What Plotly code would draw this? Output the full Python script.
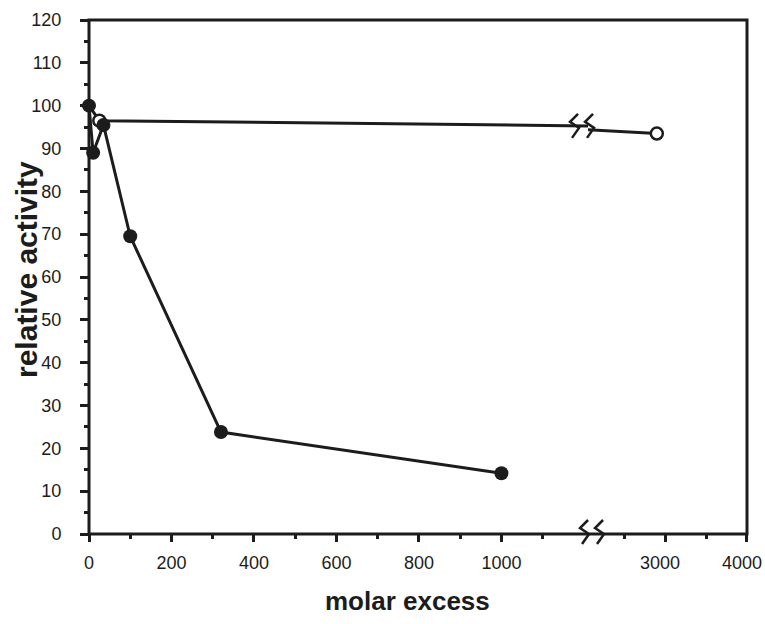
import numpy as np
import plotly.graph_objects as go

# ---------------- data ----------------
filled_x = [0, 10, 35, 100, 320, 1000]
filled_y = [100, 89, 95.5, 69.5, 23.8, 14.2]

open_x = [0, 25, 2900]
open_y = [100, 96.5, 93.5]

y_tickvals = list(range(0, 121, 10))
y_minorvals = list(range(5, 120, 10))
x_left_tickvals = [0, 200, 400, 600, 800, 1000]
x_left_ticktext = ["0", "200", "400", "600", "800", "1000"]
x_left_minorvals = [100, 300, 500, 700, 900, 1100]
x_right_tickvals = [3000, 4000]
x_right_ticktext = ["3000", "4000"]
x_right_minorvals = [2500, 3500]

x_title = "molar excess"
y_title = "relative activity"

# ---------------- styling / layout ----------------
INK = "#1c1c1c"
FONT = "Liberation Sans, Arial, Helvetica, sans-serif"
X_LEFT_RANGE = [0, 1210]
X_RIGHT_RANGE = [2061, 4000]
SPLIT = 0.7584
W, H = 765, 624
ML, MR, MT, MB = 89, 18, 20, 90


def in_range(xs, ys, r):
    xs = np.asarray(xs, float)
    ys = np.asarray(ys, float)
    m = (xs >= r[0]) & (xs <= r[1])
    return xs[m], ys[m]


fig = go.Figure()

common = dict(showlegend=False, hoverinfo="skip")

# lines
fig.add_trace(go.Scatter(x=filled_x, y=filled_y, xaxis="x", yaxis="y", mode="lines",
                         line=dict(color=INK, width=3), **common))
for xa in ["x", "x2"]:
    fig.add_trace(go.Scatter(x=open_x, y=open_y, xaxis=xa, yaxis="y", mode="lines",
                             line=dict(color=INK, width=3), **common))

# open markers
for xa, rng in [("x", X_LEFT_RANGE), ("x2", X_RIGHT_RANGE)]:
    ox, oy = in_range(open_x[1:], open_y[1:], rng)
    fig.add_trace(go.Scatter(x=ox, y=oy, xaxis=xa, yaxis="y", mode="markers",
                             marker=dict(size=12, color="white", line=dict(color=INK, width=2.5)),
                             cliponaxis=False, **common))

# filled markers
fx, fy = in_range(filled_x, filled_y, X_LEFT_RANGE)
fig.add_trace(go.Scatter(x=fx, y=fy, xaxis="x", yaxis="y", mode="markers",
                         marker=dict(size=14, color=INK), cliponaxis=False, **common))

tickfont = dict(family=FONT, size=18, color=INK)
axis_common = dict(showgrid=False, zeroline=False, showline=False, ticks="outside",
                   tickwidth=2.5, tickcolor=INK, tickfont=tickfont, fixedrange=True,
                   ticklabeloverflow="allow", automargin=False)

fig.update_layout(
    width=W, height=H,
    margin=dict(l=ML, r=MR, t=MT, b=MB, autoexpand=False),
    paper_bgcolor="white", plot_bgcolor="white",
    xaxis=dict(domain=[0, SPLIT], range=X_LEFT_RANGE, anchor="y",
               tickmode="array", tickvals=x_left_tickvals, ticktext=x_left_ticktext,
               ticklen=7, ticklabelstandoff=5,
               minor=dict(tickvals=x_left_minorvals, ticks="outside", ticklen=4,
                          tickwidth=2.5, tickcolor=INK),
               **axis_common),
    xaxis2=dict(domain=[SPLIT, 1], range=X_RIGHT_RANGE, anchor="y",
                tickmode="array", tickvals=x_right_tickvals, ticktext=x_right_ticktext,
                ticklen=7, ticklabelstandoff=5, ticklabelshift=-5,
                minor=dict(tickvals=x_right_minorvals, ticks="outside", ticklen=4,
                           tickwidth=2.5, tickcolor=INK),
                **axis_common),
    yaxis=dict(domain=[0, 1], range=[0, 120], anchor="x",
               tickmode="array", tickvals=y_tickvals,
               ticklen=8, ticklabelstandoff=15,
               minor=dict(tickvals=y_minorvals, ticks="outside", ticklen=4,
                          tickwidth=2.5, tickcolor=INK),
               **axis_common),
)

# frame
shapes = [dict(type="rect", xref="paper", yref="paper", x0=0, x1=1, y0=0, y1=1,
               line=dict(color=INK, width=3), layer="below")]


def break_path(dx):
    # one "S"-like break stroke, pixel offsets (y up) relative to its vertex on the line
    pts = [(-1, 14), (-9, 6), (0, 0), (-7, -10)]
    return "M " + " L ".join(f"{dx + px},{py}" for px, py in pts)


# y of the open-series line near the break (mean of the two clipped segments)
y_left = np.interp(X_LEFT_RANGE[1], open_x[1:], open_y[1:])
y_right = np.interp(X_RIGHT_RANGE[0], open_x[1:], open_y[1:])
y_break_top = (y_left + y_right) / 2

for anchor_y, yref, shift in [(y_break_top, "y", -4), (0, "paper", 6)]:
    for dx in (-5, 10):
        shapes.append(dict(type="path", xref="paper", yref=yref,
                           xsizemode="pixel", ysizemode="pixel",
                           xanchor=SPLIT, yanchor=anchor_y,
                           path=break_path(dx + shift),
                           line=dict(color=INK, width=2.5)))

fig.update_layout(shapes=shapes)

# axis titles
fig.add_annotation(text=x_title, xref="paper", yref="paper",
                   x=(407 - ML) / (W - ML - MR), y=(534 - 601) / (H - MT - MB),
                   xanchor="center", yanchor="middle", showarrow=False,
                   font=dict(family=FONT, size=26, color=INK, weight="bold"))
fig.add_annotation(text=y_title, xref="paper", yref="paper", textangle=-90,
                   x=(26 - ML) / (W - ML - MR), y=(534 - 270) / (H - MT - MB),
                   xanchor="center", yanchor="middle", showarrow=False,
                   font=dict(family=FONT, size=30, color=INK, weight="bold"))

fig.write_html("out.html")
